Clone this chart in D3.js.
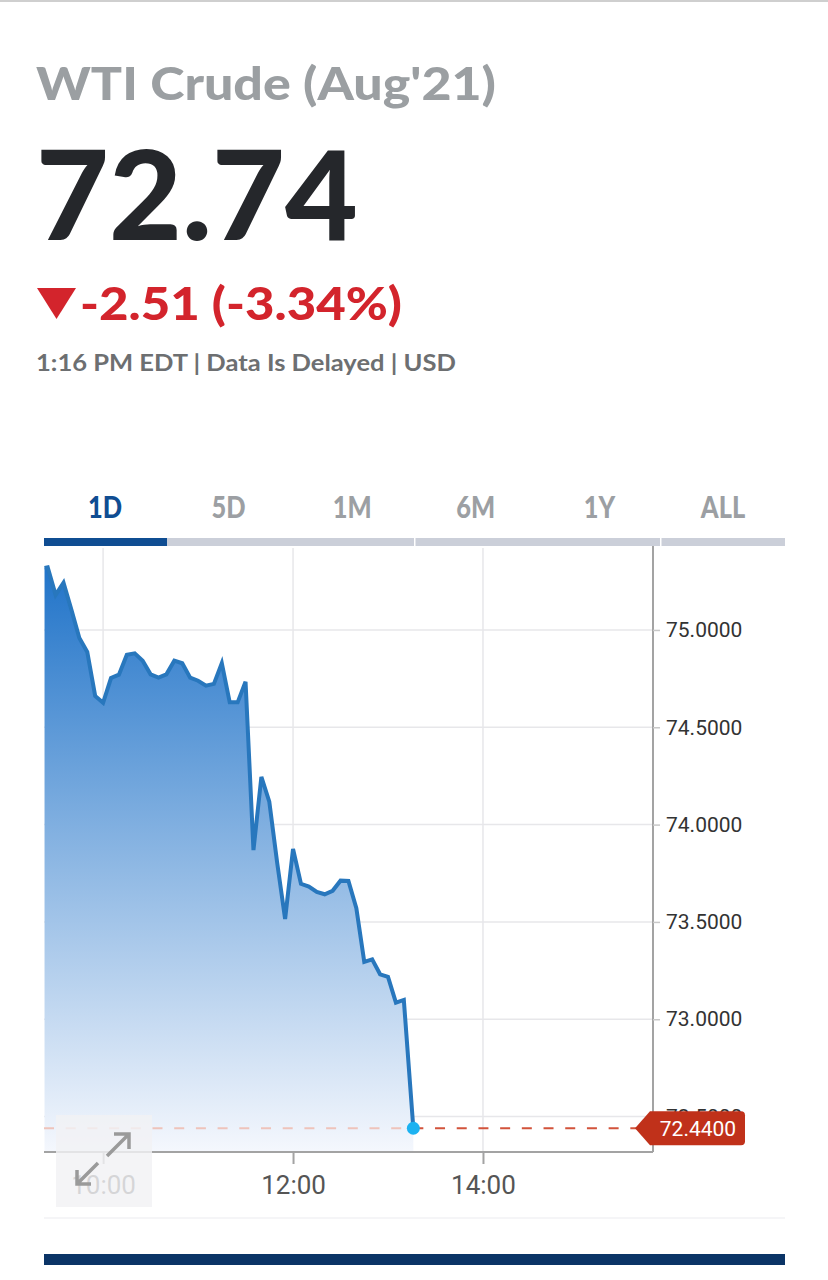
<!DOCTYPE html>
<html>
<head>
<meta charset="utf-8">
<script src="https://cdn.jsdelivr.net/npm/d3@7/dist/d3.min.js"></script>
<style>
  html, body { margin: 0; padding: 0; background: #fff; }
  svg { display: block; }
</style>
</head>
<body>
<svg id="chart" width="828" height="1280"></svg>
<script>
// ---------- DATA ----------
const titleText = "WTI Crude (Aug'21)";
const lastPriceText = "72.74";
const changeText = "-2.51 (-3.34%)";
const subText = "1:16 PM EDT | Data Is Delayed | USD";
const tabLabels = ["1D", "5D", "1M", "6M", "1Y", "ALL"];
const activeTab = "1D";

const times = ["09:23","09:25","09:30","09:35","09:40","09:45","09:50","09:55",
  "10:00","10:05","10:10","10:15","10:20","10:25","10:30","10:35","10:40","10:45","10:50","10:55",
  "11:00","11:05","11:10","11:15","11:20","11:25","11:30","11:35","11:40","11:45","11:50","11:55",
  "12:00","12:05","12:10","12:15","12:20","12:25","12:30","12:35","12:40","12:45","12:50","12:55",
  "13:00","13:05","13:10","13:16"];
const prices = [75.319,75.322,75.180,75.242,75.103,74.959,74.887,74.661,
  74.626,74.753,74.770,74.872,74.880,74.842,74.772,74.755,74.772,74.842,74.829,74.755,
  74.739,74.714,74.723,74.829,74.628,74.628,74.734,73.869,74.245,74.118,73.803,73.515,
  73.875,73.696,73.682,73.654,73.642,73.660,73.712,73.710,73.570,73.295,73.308,73.231,
  73.218,73.085,73.099,72.440];
const yTicks = [72.5, 73.0, 73.5, 74.0, 74.5, 75.0];
const xTickLabels = ["10:00", "12:00", "14:00"];
const xDomainTimes = ["09:22:40", "15:47:25"];
const yDomain = [72.318, 75.421];
const currentPrice = 72.44;

// ---------- HELPERS ----------
const parseT = d3.timeParse("%Y-%m-%d %H:%M:%S");
const toDate = s => parseT("2021-07-19 " + (s.length === 5 ? s + ":00" : s));
const data = times.map((t, i) => ({ t: toDate(t), v: prices[i] }));

const svg = d3.select("#chart");
const headFont = "Lato, 'Open Sans', sans-serif";
const axisFont = "Roboto, 'Liberation Sans', Arial, sans-serif";

// top border
svg.append("rect").attr("x", 0).attr("y", 0).attr("width", 828).attr("height", 2).attr("fill", "#cfcfcf");

// ---------- HEADER ----------
svg.append("text").attr("x", 36).attr("y", 100)
  .attr("font-family", headFont).attr("font-weight", 900).attr("font-size", 46)
  .attr("fill", "#9b9fa2").attr("textLength", 460).attr("lengthAdjust", "spacingAndGlyphs")
  .text(titleText);

svg.append("text").attr("x", 36).attr("y", 240)
  .attr("font-family", headFont).attr("font-weight", 900).attr("font-size", 124)
  .attr("fill", "#25272b").attr("textLength", 322).attr("lengthAdjust", "spacingAndGlyphs")
  .text(lastPriceText);

svg.append("path").attr("d", "M37,288 L76,288 L56.5,319 Z").attr("fill", "#d3242c");
svg.append("text").attr("x", 80).attr("y", 320)
  .attr("font-family", headFont).attr("font-weight", 900).attr("font-size", 46)
  .attr("fill", "#d3242c").attr("textLength", 322).attr("lengthAdjust", "spacingAndGlyphs")
  .text(changeText);

svg.append("text").attr("x", 36).attr("y", 371)
  .attr("font-family", headFont).attr("font-weight", 700).attr("font-size", 23)
  .attr("fill", "#6d6f71").attr("textLength", 420).attr("lengthAdjust", "spacingAndGlyphs")
  .text(subText);

// ---------- TABS ----------
const tabX = d3.scalePoint().domain(tabLabels).range([105, 723]);
const tabG = svg.append("g");
tabLabels.forEach(l => {
  tabG.append("text")
    .attr("font-family", headFont).attr("font-weight", 900).attr("font-size", 31)
    .attr("fill", l === activeTab ? "#0f4d92" : "#9c9fa3")
    .attr("text-anchor", "middle")
    .attr("transform", `translate(${tabX(l)},518) scale(0.82,1)`)
    .text(l);
});
svg.append("rect").attr("x", 44).attr("y", 538).attr("width", 741).attr("height", 8).attr("fill", "#cbcfd9");
svg.append("rect").attr("x", 44).attr("y", 538).attr("width", 123).attr("height", 8).attr("fill", "#0f4d92");
[414, 660].forEach(gx => svg.append("rect").attr("x", gx).attr("y", 538).attr("width", 1.5).attr("height", 8).attr("fill", "#fff"));

// ---------- CHART ----------
const pL = 44, pR = 653, pT = 548, pB = 1152;
const x = d3.scaleTime().domain(xDomainTimes.map(toDate)).range([pL, pR]);
const y = d3.scaleLinear().domain(yDomain).range([pB, pT]);

const defs = svg.append("defs");
const grad = defs.append("linearGradient").attr("id", "fillGrad")
  .attr("gradientUnits", "userSpaceOnUse").attr("x1", 0).attr("x2", 0).attr("y1", 560).attr("y2", 1150);
grad.append("stop").attr("offset", "0%").attr("stop-color", "#1e72c8");
grad.append("stop").attr("offset", "45%").attr("stop-color", "#80afe0");
grad.append("stop").attr("offset", "100%").attr("stop-color", "#f4f7fd");
defs.append("clipPath").attr("id", "plotClip").append("rect")
  .attr("x", pL).attr("y", pT).attr("width", pR - pL).attr("height", pB - pT);

// grid
const grid = svg.append("g");
grid.selectAll("line.h").data(yTicks).join("line").attr("class", "h")
  .attr("x1", pL).attr("x2", pR).attr("y1", d => y(d)).attr("y2", d => y(d))
  .attr("stroke", "#e7e7ea").attr("stroke-width", 1.5);
grid.selectAll("line.v").data(xTickLabels).join("line").attr("class", "v")
  .attr("x1", d => x(toDate(d))).attr("x2", d => x(toDate(d)))
  .attr("y1", pT).attr("y2", pB)
  .attr("stroke", "#e7e7ea").attr("stroke-width", 1.5);

// area
const plot = svg.append("g").attr("clip-path", "url(#plotClip)");
plot.append("path").datum(data)
  .attr("d", d3.area().x(d => x(d.t)).y0(pB).y1(d => y(d.v)))
  .attr("fill", "url(#fillGrad)");

// dashed current line
const lastPt = data[data.length - 1];
svg.append("line").attr("x1", pL).attr("x2", x(lastPt.t))
  .attr("y1", y(currentPrice)).attr("y2", y(currentPrice))
  .attr("stroke", "#eec3bb").attr("stroke-width", 2).attr("stroke-dasharray", "10,11.7");
svg.append("line").attr("x1", x(lastPt.t)).attr("x2", 640)
  .attr("y1", y(currentPrice)).attr("y2", y(currentPrice))
  .attr("stroke", "#d2533b").attr("stroke-width", 2).attr("stroke-dasharray", "10,11.7");

plot.append("path").datum(data)
  .attr("d", d3.line().x(d => x(d.t)).y(d => y(d.v)))
  .attr("fill", "none").attr("stroke", "#2877bd").attr("stroke-width", 4)
  .attr("stroke-linejoin", "miter");

svg.append("circle").attr("cx", x(lastPt.t)).attr("cy", y(lastPt.v)).attr("r", 6.5).attr("fill", "#1cb2f1");

// right axis
const yAxis = d3.axisRight(y).tickValues(yTicks).tickSize(7).tickPadding(6)
  .tickFormat(d3.format(".4f"));
const yG = svg.append("g").attr("transform", `translate(${pR},0)`).call(yAxis);
yG.select(".domain").attr("stroke", "#a3a3a3").attr("stroke-width", 2).attr("d", `M0,${pT-2}V${pB}`);
yG.selectAll(".tick line").attr("stroke", "#c8c8c8").attr("stroke-width", 1.5);
yG.selectAll(".tick text").attr("font-family", axisFont).attr("font-size", 21).attr("fill", "#333");

// bottom axis
const xAxis = d3.axisBottom(x).tickValues(xTickLabels.map(toDate)).tickSize(12).tickPadding(12)
  .tickFormat(d3.timeFormat("%H:%M"));
const xG = svg.append("g").attr("transform", `translate(0,${pB})`).call(xAxis);
xG.select(".domain").attr("stroke", "#a3a3a3").attr("stroke-width", 2).attr("d", `M${pL},0H${pR}`);
xG.selectAll(".tick line").attr("stroke", "#a3a3a3").attr("stroke-width", 2);
xG.selectAll(".tick text").attr("font-family", axisFont).attr("font-size", 26).attr("fill", "#555");

// price label (covers the 72.5000 tick label, as in the original)
const py = y(currentPrice);
svg.append("path")
  .attr("d", `M635,${py} L650,${py-17} L741,${py-17} Q745,${py-17} 745,${py-13} L745,${py+13} Q745,${py+17} 741,${py+17} L650,${py+17} Z`)
  .attr("fill", "#c0311a");
svg.append("text").attr("x", 698).attr("y", py + 7.5).attr("text-anchor", "middle")
  .attr("font-family", axisFont).attr("font-size", 21).attr("fill", "#fff")
  .text(d3.format(".4f")(currentPrice));

// expand icon overlay
svg.append("rect").attr("x", 56).attr("y", 1115).attr("width", 96).attr("height", 92)
  .attr("fill", "#f1f1f4").attr("fill-opacity", 0.82);
const arrow = svg.append("g").attr("stroke", "#9a9a9a").attr("stroke-width", 3.5).attr("fill", "none");
arrow.append("path").attr("d", "M107,1156 L128,1135 M114,1134 L129,1134 L129,1149");
arrow.append("path").attr("d", "M98,1163 L77,1184 M77,1170 L77,1184 L91,1184");

// bottom separators
svg.append("rect").attr("x", 44).attr("y", 1217.5).attr("width", 741).attr("height", 1).attr("fill", "#ececef");
svg.append("rect").attr("x", 44).attr("y", 1254).attr("width", 741).attr("height", 11).attr("fill", "#0b3466");
</script>
</body>
</html>
